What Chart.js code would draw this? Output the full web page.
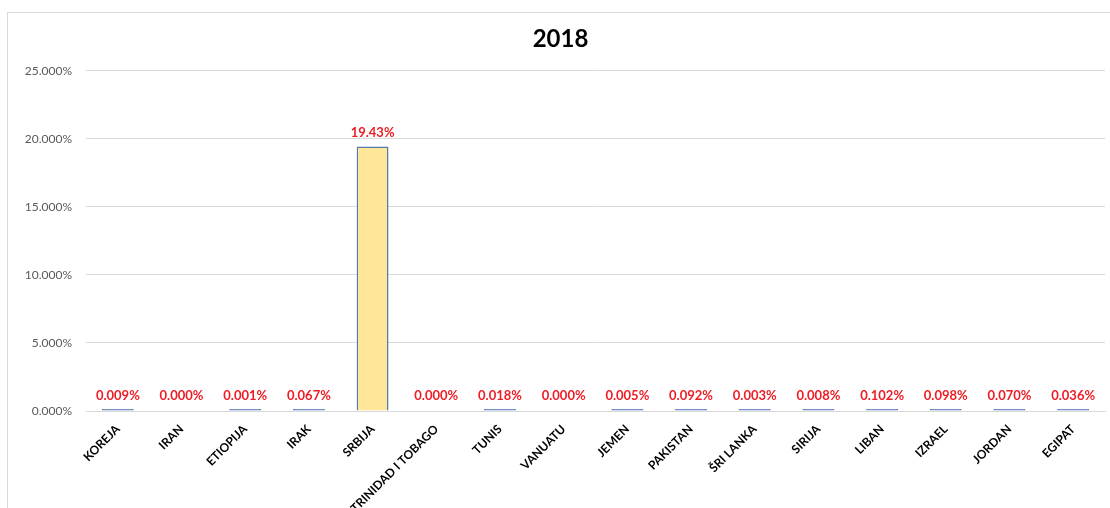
<!DOCTYPE html>
<html>
<head>
<meta charset="utf-8">
<script src="https://cdn.jsdelivr.net/npm/chart.js@4/dist/chart.umd.min.js"></script>
<style>
  body { margin: 0; background: #fff; overflow: hidden; }
  #frame { position: absolute; left: 7px; top: 12px; width: 1110px; height: 510px; border: 1px solid #d9d9d9; }
  #c { position: absolute; left: 0; top: 0; }
</style>
</head>
<body>
<div id="frame"><canvas id="c" width="1102" height="495"></canvas></div>
<script>
var countries = ['KOREJA', 'IRAN', 'ETIOPIJA', 'IRAK', 'SRBIJA', 'TRINIDAD I TOBAGO', 'TUNIS', 'VANUATU',
    'JEMEN', 'PAKISTAN', 'ŠRI LANKA', 'SIRIJA', 'LIBAN', 'IZRAEL', 'JORDAN', 'EGIPAT'];
// percent values for 2018
var share2018 = [0.009, 0.000, 0.001, 0.067, 19.43, 0.000, 0.018, 0.000,
    0.005, 0.092, 0.003, 0.008, 0.102, 0.098, 0.070, 0.036];
var yTicks = [0, 5, 10, 15, 20, 25];

function fmt(v) {
    return v >= 1 ? v.toFixed(2) + '%' : v.toFixed(3) + '%';
}

// red value labels over the bars
var valueLabels = {
    id: 'valueLabels',
    afterDatasetsDraw: function(chart) {
        var ctx = chart.ctx;
        var meta = chart.getDatasetMeta(0);
        ctx.save();
        ctx.font = 'bold 13px Lato';
        ctx.fillStyle = '#ee1c25';
        ctx.textAlign = 'center';
        ctx.textBaseline = 'bottom';
        meta.data.forEach(function(bar, i) {
            ctx.fillText(fmt(share2018[i]), bar.x, Math.min(bar.y, chart.scales.y.getPixelForValue(0)) - 7);
        });
        ctx.restore();
    }
};

new Chart(document.getElementById('c'), {
    type: 'bar',
    data: {
        labels: countries,
        datasets: [{
            data: share2018,
            backgroundColor: function(c) { return c.raw > 1 ? '#ffe699' : (c.raw > 0 ? '#5b82c8' : 'rgba(0,0,0,0)'); },
            borderColor: function(c) { return c.raw > 0 ? '#5677b0' : 'rgba(0,0,0,0)'; },
            borderWidth: 1.5,
            minBarLength: 2,
            categoryPercentage: 1,
            barPercentage: 0.5
        }]
    },
    options: {
        responsive: false,
        animation: false,
        layout: { padding: { left: 8, right: 5 } },
        plugins: {
            legend: { display: false },
            tooltip: { enabled: false },
            title: {
                display: true,
                text: '2018',
                color: '#000',
                font: { family: 'Lato', size: 24, weight: 'bold' },
                padding: { top: 12, bottom: 17 }
            }
        },
        scales: {
            x: {
                grid: { display: false },
                border: { color: '#d9d9d9' },
                ticks: {
                    color: '#000',
                    font: { family: 'Lato', size: 12, weight: 'bold' },
                    minRotation: 45,
                    maxRotation: 45,
                    autoSkip: false
                },
                afterFit: function(s) { s.height = 97; }
            },
            y: {
                min: 0,
                max: 25,
                afterBuildTicks: function(s) { s.ticks = yTicks.map(function(v) { return { value: v }; }); },
                grid: { color: '#d9d9d9', drawTicks: false },
                border: { display: false },
                ticks: {
                    color: '#595959',
                    padding: 14,
                    font: { family: 'Lato', size: 12 },
                    callback: function(v) { return v.toFixed(3) + '%'; }
                },
                afterFit: function(s) { s.width = 70; }
            }
        }
    },
    plugins: [valueLabels]
});
</script>
</body>
</html>
